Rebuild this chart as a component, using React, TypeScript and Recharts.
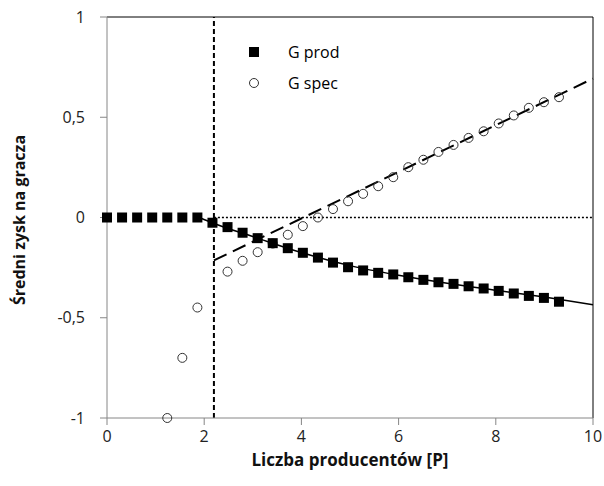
import { ComposedChart, Scatter, Line, XAxis, YAxis, ReferenceLine, Legend, Label } from "recharts";

// liczba producentów P (kolejne punkty symulacji)
const playerCounts = [
  0, 0.31, 0.62, 0.93, 1.24, 1.55, 1.86, 2.17, 2.48, 2.79, 3.1, 3.41, 3.72, 4.03, 4.34, 4.65,
  4.96, 5.27, 5.58, 5.89, 6.2, 6.51, 6.82, 7.13, 7.44, 7.75, 8.06, 8.37, 8.68, 8.99, 9.3,
];
const prodGain = [
  0, 0, 0, 0, 0, 0, 0, -0.026, -0.048, -0.076, -0.103, -0.128, -0.153, -0.176, -0.2, -0.225,
  -0.248, -0.264, -0.276, -0.284, -0.298, -0.311, -0.323, -0.331, -0.343, -0.354, -0.366,
  -0.379, -0.391, -0.401, -0.42,
];
const specGain: (number | null)[] = [
  null, null, null, null, -1.0, -0.7, -0.449, null, -0.27, -0.216, -0.173, -0.13, -0.086,
  -0.043, 0.0, 0.042, 0.081, 0.118, 0.156, 0.201, 0.251, 0.288, 0.327, 0.362, 0.397, 0.43,
  0.469, 0.509, 0.547, 0.575, 0.6,
];

// linie trendu
const prodTrendX = [1.9, 2.2, 3, 4, 5, 6, 7, 8, 9, 10];
const prodTrendY = [0, -0.03, -0.095, -0.175, -0.24, -0.288, -0.328, -0.363, -0.397, -0.435];
const specTrendX = [2.2, 10];
const specTrendY = [-0.214, 0.693];

const thresholdP = 2.2;
const xTicks = [0, 2, 4, 6, 8, 10];
const yTicks = [-1, -0.5, 0, 0.5, 1];

const prodPoints = playerCounts.map((x, i) => ({ x, y: prodGain[i] }));
const specPoints = playerCounts
  .map((x, i) => ({ x, y: specGain[i] }))
  .filter((p) => p.y !== null);
const prodTrend = prodTrendX.map((x, i) => ({ x, y: prodTrendY[i] }));
const specTrend = specTrendX.map((x, i) => ({ x, y: specTrendY[i] }));

const FONT = "'Open Sans', sans-serif";
const AXIS_GRAY = "#868686";

const fmt = (v: number) => String(v).replace(".", ",");

const Square = (props: any) => (
  <rect x={props.cx - 5} y={props.cy - 5} width={10} height={10} fill="#000" />
);
const Ring = (props: any) => (
  <circle cx={props.cx} cy={props.cy} r={4.5} fill="none" stroke="#333" strokeWidth={1} />
);

function LegendBox() {
  const row = { display: "flex", alignItems: "center", height: 31 };
  const label = { marginLeft: 29, fontFamily: FONT, fontSize: 16, color: "#000" };
  return (
    <div>
      <div style={row}>
        <svg width={10} height={10}>
          <rect width={10} height={10} fill="#000" />
        </svg>
        <span style={label}>G prod</span>
      </div>
      <div style={row}>
        <svg width={10} height={10}>
          <circle cx={5} cy={5} r={4.5} fill="none" stroke="#333" strokeWidth={1} />
        </svg>
        <span style={label}>G spec</span>
      </div>
    </div>
  );
}

export default function App() {
  return (
    <div style={{ position: "absolute", left: 0, top: 0, width: 604, height: 486, background: "#fff" }}>
      <style>{"body{margin:0}"}</style>
      <ComposedChart width={604} height={486} margin={{ top: 17, right: 11, bottom: 0, left: 0 }}>
        <XAxis
          dataKey="x"
          type="number"
          domain={[0, 10]}
          ticks={xTicks}
          height={68}
          stroke={AXIS_GRAY}
          tickSize={7}
          tickMargin={6}
          tick={{ fill: "#222", fontSize: 16, fontFamily: FONT }}
        >
          <Label
            content={() => (
              <text x={350} y={466} textAnchor="middle" fontFamily={FONT} fontSize={17} fontWeight="bold" fill="#111">
                Liczba producentów [P]
              </text>
            )}
          />
        </XAxis>
        <YAxis
          dataKey="y"
          type="number"
          domain={[-1, 1]}
          ticks={yTicks}
          width={107}
          stroke={AXIS_GRAY}
          tickSize={7}
          tickMargin={15}
          tickFormatter={fmt}
          tick={{ fill: "#222", fontSize: 16, fontFamily: FONT }}
        >
          <Label
            content={() => (
              <text
                x={25}
                y={220}
                transform="rotate(-90 25 220)"
                textAnchor="middle"
                fontFamily={FONT}
                fontSize={16}
                fontWeight="bold"
                fill="#111"
              >
                Średni zysk na gracza
              </text>
            )}
          />
        </YAxis>
        <ReferenceLine y={1} stroke="#000" strokeWidth={1} />
        <ReferenceLine x={10} stroke="#000" strokeWidth={1} />
        <ReferenceLine
          segment={[
            { x: thresholdP, y: 0 },
            { x: 10, y: 0 },
          ]}
          stroke="#000"
          strokeWidth={1.5}
          strokeDasharray="2 2"
        />
        <ReferenceLine x={thresholdP} stroke="#000" strokeWidth={2} strokeDasharray="5 3" />
        <Scatter data={specPoints} dataKey="y" shape={Ring} isAnimationActive={false} />
        <Line
          data={specTrend}
          dataKey="y"
          type="linear"
          stroke="#000"
          strokeWidth={2}
          strokeDasharray="14 7"
          dot={false}
          activeDot={false}
          isAnimationActive={false}
        />
        <Line
          data={prodTrend}
          dataKey="y"
          type="monotone"
          stroke="#000"
          strokeWidth={1.5}
          dot={false}
          activeDot={false}
          isAnimationActive={false}
        />
        <Scatter data={prodPoints} dataKey="y" shape={Square} isAnimationActive={false} />
        <Legend
          layout="horizontal"
          verticalAlign="middle"
          align="center"
          wrapperStyle={{ left: 249, top: 36.5, width: "auto" }}
          content={() => <LegendBox />}
        />
      </ComposedChart>
    </div>
  );
}
